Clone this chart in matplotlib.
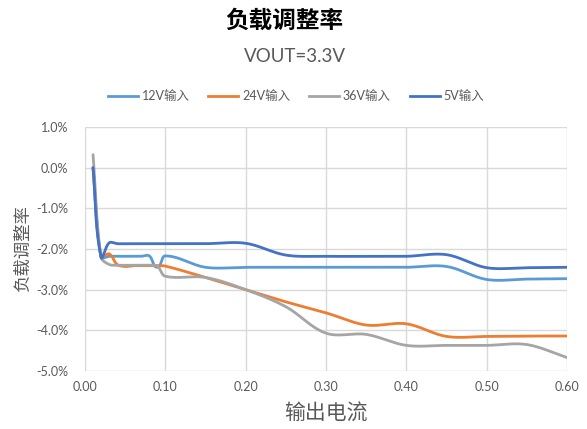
import numpy as np
import matplotlib
matplotlib.use("Agg")
import matplotlib.pyplot as plt
from matplotlib.lines import Line2D
from matplotlib.ticker import FuncFormatter, MultipleLocator

plt.rcParams['font.family'] = ['Lato', 'Noto Sans CJK SC', 'DejaVu Sans']

# Output current (A)
load = [0.01, 0.02, 0.03, 0.04, 0.05, 0.06, 0.07, 0.08, 0.09, 0.10,
        0.15, 0.20, 0.25, 0.30, 0.35, 0.40, 0.45, 0.50, 0.55, 0.60]

# Load regulation (%) per input voltage
reg_12v = [0.00, -2.20, -2.18, -2.18, -2.18, -2.18, -2.18, -2.17, -2.45, -2.17,
           -2.45, -2.45, -2.45, -2.45, -2.45, -2.45, -2.43, -2.75, -2.74, -2.73]
reg_24v = [0.00, -2.20, -2.12, -2.38, -2.43, -2.41, -2.41, -2.41, -2.41, -2.42,
           -2.70, -3.00, -3.30, -3.57, -3.87, -3.84, -4.15, -4.15, -4.14, -4.14]
reg_36v = [0.32, -2.20, -2.38, -2.40, -2.40, -2.40, -2.40, -2.40, -2.42, -2.67,
           -2.70, -3.00, -3.42, -4.07, -4.10, -4.37, -4.37, -4.37, -4.35, -4.67]
reg_5v = [0.00, -2.20, -1.85, -1.87, -1.87, -1.87, -1.87, -1.87, -1.87, -1.87,
          -1.87, -1.86, -2.15, -2.18, -2.18, -2.18, -2.14, -2.46, -2.46, -2.45]

series_names = ['12V输入', '24V输入', '36V输入', '5V输入']
series_values = [reg_12v, reg_24v, reg_36v, reg_5v]
series_colors = ['#5B9BD5', '#ED7D31', '#A5A5A5', '#4472C4']

x_ticks = [0.00, 0.10, 0.20, 0.30, 0.40, 0.50, 0.60]

X_LIM = (0.0, 0.6)
Y_LIM = (-5.0, 1.0)
FIG_W, FIG_H = 5.87, 4.29
AX_RECT = [0.1448, 0.1352, 0.8212, 0.5688]


def smooth_path(xs, ys, sx, sy, n=40):
    """Bezier smoothing with tangents scaled by neighbouring segment lengths
    (measured in screen units sx, sy per data unit)."""
    p = np.column_stack([np.asarray(xs) * sx, np.asarray(ys) * sy]).astype(float)
    m = len(p)
    tang = np.zeros_like(p)
    for i in range(m):
        a = p[max(i - 1, 0)]
        b = p[min(i + 1, m - 1)]
        d = b - a
        nd = np.hypot(*d)
        tang[i] = d / nd if nd > 0 else 0
    t = np.linspace(0, 1, n)[:, None]
    out = []
    for i in range(m - 1):
        p1, p2 = p[i], p[i + 1]
        L = np.hypot(*(p2 - p1))
        c1 = p1 + tang[i] * L / 3.0
        c2 = p2 - tang[i + 1] * L / 3.0
        seg = ((1 - t) ** 3) * p1 + 3 * ((1 - t) ** 2) * t * c1 \
            + 3 * (1 - t) * t ** 2 * c2 + t ** 3 * p2
        out.append(seg if i == 0 else seg[1:])
    seg = np.vstack(out)
    return seg[:, 0] / sx, seg[:, 1] / sy


fig = plt.figure(figsize=(FIG_W, FIG_H), dpi=100)
ax = fig.add_axes(AX_RECT)

px_per_x = FIG_W * 100 * AX_RECT[2] / (X_LIM[1] - X_LIM[0])
px_per_y = FIG_H * 100 * AX_RECT[3] / (Y_LIM[1] - Y_LIM[0])

for name, vals, col in zip(series_names, series_values, series_colors):
    cx, cy = smooth_path(load, vals, px_per_x, px_per_y)
    ax.plot(cx, cy, color=col, lw=2.0, solid_capstyle='round',
            solid_joinstyle='round', label=name, zorder=3)

ax.set_xlim(*X_LIM)
ax.set_ylim(*Y_LIM)
ax.set_xticks(x_ticks)
ax.xaxis.set_major_formatter(FuncFormatter(lambda v, _: f'{v:.2f}'))
ax.yaxis.set_major_locator(MultipleLocator(1.0))
ax.yaxis.set_major_formatter(FuncFormatter(lambda v, _: f'{v:.1f}%'))

ax.grid(True, color='#D9D9D9', lw=1.0, zorder=0)
for s in ax.spines.values():
    s.set_visible(False)
ax.tick_params(axis='both', length=0, colors='#595959', labelsize=9)
ax.tick_params(axis='y', pad=12)
ax.tick_params(axis='x', pad=7)

ax.set_xlabel('输出电流', fontsize=15, color='#595959', labelpad=8)
ax.set_ylabel('负载调整率', fontsize=12.5, color='#595959', labelpad=4)

fig.text(284 / 587, 1 - 20 / 429, '负载调整率', ha='center', va='center',
         fontsize=17, fontweight='bold', color='black')
fig.text(295 / 587, 1 - 57 / 429, 'VOUT=3.3V', ha='center', va='center',
         fontsize=13.5, color='#595959')

handles = [Line2D([], [], color=c, lw=2.0) for c in series_colors]
fig.legend(handles, series_names, loc='center', bbox_to_anchor=(296 / 587, 1 - 96 / 429),
           ncol=4, frameon=False, fontsize=9, handlelength=2.4, handletextpad=0.3,
           columnspacing=1.5, labelcolor='#595959')

fig.savefig('out.png', dpi=100)
